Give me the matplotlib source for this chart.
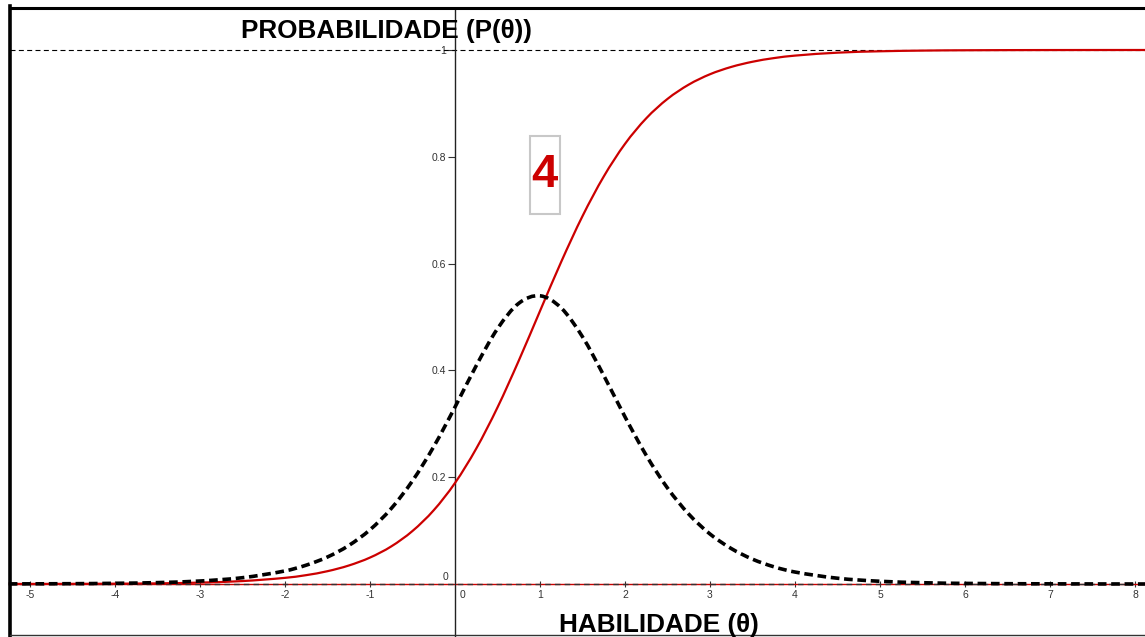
import matplotlib
matplotlib.use("Agg")
import matplotlib.pyplot as plt
from matplotlib.lines import Line2D
from matplotlib.patches import Rectangle, PathPatch
from matplotlib.path import Path

# --- values ---
theta = [-5.25, -4.5, -4.0, -3.5, -3.0, -2.5, -2.0, -1.75, -1.5, -1.25, -1.0,
         -0.75, -0.5, -0.25, 0.0, 0.25, 0.5, 0.75, 1.0, 1.25, 1.5, 1.75, 2.0,
         2.25, 2.5, 2.75, 3.0, 3.25, 3.5, 3.75, 4.0, 4.5, 5.0, 5.5, 6.0, 7.0, 8.25]

# probability of correct answer P(theta), red curve
prob = [0.0001, 0.0003, 0.0006, 0.0012, 0.0026, 0.0055, 0.0115, 0.0166, 0.0240,
        0.0346, 0.0495, 0.0704, 0.0993, 0.1382, 0.1892, 0.2536, 0.3307, 0.4182,
        0.5112, 0.6035, 0.6889, 0.7631, 0.8242, 0.8721, 0.9084, 0.9352, 0.9546,
        0.9683, 0.9780, 0.9848, 0.9895, 0.9950, 0.9976, 0.9989, 0.9995, 0.9999, 1.0]

# item information, black dashed curve
info = [0.0002, 0.0006, 0.0013, 0.0026, 0.0056, 0.0118, 0.0245, 0.0353, 0.0506,
        0.0721, 0.1016, 0.1414, 0.1933, 0.2573, 0.3313, 0.4089, 0.4781, 0.5256,
        0.5397, 0.5168, 0.4629, 0.3905, 0.3130, 0.2409, 0.1797, 0.1309, 0.0936,
        0.0664, 0.0465, 0.0323, 0.0224, 0.0108, 0.0051, 0.0024, 0.0011, 0.0003, 0.0]

x_ticks = [-5, -4, -3, -2, -1, 1, 2, 3, 4, 5, 6, 7, 8]
x_tick_labels = ["-5", "-4", "-3", "-2", "-1", "1", "2", "3", "4", "5", "6", "7", "8"]
y_ticks = [0.2, 0.4, 0.6, 0.8, 1.0]
y_tick_labels = ["0.2", "0.4", "0.6", "0.8", "1"]

title_text = "PROBABILIDADE (P(θ))"
xlabel_text = "HABILIDADE (θ)"
item_label = "4"

RED = "#cc0000"
W, H = 1145, 637


def smooth_path(xs, ys):
    # cubic Hermite segments through the read points (drawn smooth, no new points)
    n = len(xs)
    slopes = []
    for i in range(n):
        a = max(i - 1, 0)
        b = min(i + 1, n - 1)
        slopes.append((ys[b] - ys[a]) / (xs[b] - xs[a]))
    verts = [(xs[0], ys[0])]
    codes = [Path.MOVETO]
    for i in range(n - 1):
        dx = (xs[i + 1] - xs[i]) / 3
        verts += [(xs[i] + dx, ys[i] + slopes[i] * dx),
                  (xs[i + 1] - dx, ys[i + 1] - slopes[i + 1] * dx),
                  (xs[i + 1], ys[i + 1])]
        codes += [Path.CURVE4] * 3
    return Path(verts, codes)


fig = plt.figure(figsize=(W / 100, H / 100), dpi=100)
ax = fig.add_axes([0, 0, 1, 1])
# origin at pixel (455, 584), 85 px per unit in x, 534 px per unit in y
ax.set_xlim(-455 / 85, (W - 455) / 85)
ax.set_ylim((584 - H) / 534, 584 / 534)

ax.spines["top"].set_visible(False)
ax.spines["right"].set_visible(False)
ax.spines["left"].set_position(("data", 0))
ax.spines["bottom"].set_position(("data", 0))
ax.spines["left"].set_color("#222222")
ax.spines["left"].set_linewidth(1.0)
ax.spines["left"].set_bounds((584 - H) / 534, (584 - 8) / 534)
ax.spines["bottom"].set_color("none")

ax.set_xticks(x_ticks)
ax.set_xticklabels(x_tick_labels)
ax.set_yticks(y_ticks)
ax.set_yticklabels(y_tick_labels)
ax.tick_params(axis="x", direction="inout", length=5, width=0.8, color="#333333",
               pad=2, labelsize=7.5, labelcolor="#333333")
ax.tick_params(axis="y", direction="out", length=5, width=0.8, color="#333333",
               pad=1.5, labelsize=7.5, labelcolor="#333333")
for lab in ax.get_xticklabels() + ax.get_yticklabels():
    lab.set_family("Liberation Sans")

# zero labels of both axes
ax.annotate("0", (0, 0), xytext=(-7, 2), textcoords="offset pixels", ha="right",
            va="bottom", fontsize=7.5, color="#333333", family="Liberation Sans")
ax.annotate("0", (0, 0), xytext=(5, -6), textcoords="offset pixels", ha="left",
            va="top", fontsize=7.5, color="#333333", family="Liberation Sans")

# asymptote lines
ax.axhline(1, xmin=10 / W, color="black", lw=0.8, ls=(0, (4.5, 3)), zorder=2)
ax.axhline(0, xmin=10 / W, color=RED, lw=1.0, zorder=2)
ax.axhline(0, xmin=10 / W, color="#333333", lw=1.0, ls=(0, (4, 3)), zorder=2)

# curves
ax.add_patch(PathPatch(smooth_path(theta, prob), fill=False, ec=RED, lw=1.6,
                       zorder=4))
ax.add_patch(PathPatch(smooth_path(theta, info), fill=False, ec="black", lw=2.6,
                       ls=(0, (2.4, 1.3)), capstyle="butt", zorder=5))

# axis titles
fig.text(386 / W, 1 - 38 / H, title_text, ha="center", va="baseline",
         fontsize=18.8, fontweight="bold", family="Liberation Sans")
fig.text(659 / W, 1 - 632 / H, xlabel_text, ha="center", va="baseline",
         fontsize=18.8, fontweight="bold", family="Liberation Sans")

# item number box
fig.add_artist(Rectangle((530 / W, 1 - 214 / H), 30 / W, 78 / H,
                         transform=fig.transFigure, fc="white", ec="#c8c8c8",
                         lw=1.5, zorder=6))
fig.text(544 / W, 1 - 187 / H, item_label, ha="center", va="baseline",
         fontsize=34, fontweight="bold", color=RED, zorder=7,
         family="Liberation Sans")

# outer frame
fig.add_artist(Line2D([10 / W, 10 / W], [1 - 6 / H, 0], transform=fig.transFigure,
                      color="black", lw=2.6, solid_capstyle="projecting"))
fig.add_artist(Line2D([10 / W, 1], [1 - 7.5 / H, 1 - 7.5 / H], transform=fig.transFigure,
                      color="black", lw=2.2, solid_capstyle="projecting"))
fig.add_artist(Line2D([10 / W, 1], [1 - 635 / H, 1 - 635 / H], transform=fig.transFigure,
                      color="#333333", lw=1.0))

fig.savefig("out.png", dpi=100, facecolor="white")
